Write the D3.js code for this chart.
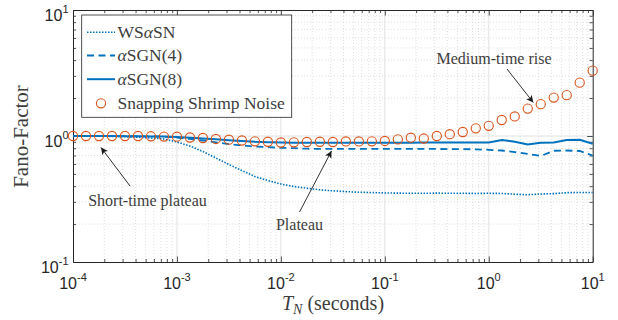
<!DOCTYPE html>
<html><head><meta charset="utf-8">
<script src="https://cdn.jsdelivr.net/npm/d3@7"></script>
<style>body{margin:0;background:#fff;} svg{display:block;}</style>
</head><body><svg id="c" width="618" height="320"></svg>
<script>
// ---- data ----
const timeSeconds = [
  1.0000e-4, 1.3335e-4, 1.7783e-4, 2.3714e-4, 3.1623e-4, 4.2170e-4, 5.6234e-4, 7.4989e-4,
  1.0000e-3, 1.3335e-3, 1.7783e-3, 2.3714e-3, 3.1623e-3, 4.2170e-3, 5.6234e-3, 7.4989e-3,
  1.0000e-2, 1.3335e-2, 1.7783e-2, 2.3714e-2, 3.1623e-2, 4.2170e-2, 5.6234e-2, 7.4989e-2,
  1.0000e-1, 1.3335e-1, 1.7783e-1, 2.3714e-1, 3.1623e-1, 4.2170e-1, 5.6234e-1, 7.4989e-1,
  1.0000, 1.3335, 1.7783, 2.3714, 3.1623, 4.2170, 5.6234, 7.4989, 10.0
];
const snappingShrimp = [
  1.000, 1.000, 1.000, 1.000, 1.000, 1.000, 0.995, 0.990,
  0.987, 0.973, 0.964, 0.947, 0.935, 0.921, 0.908, 0.900,
  0.888, 0.891, 0.896, 0.900, 0.896, 0.905, 0.905, 0.908,
  0.913, 0.940, 0.969, 0.955, 1.000, 1.033, 1.076, 1.150,
  1.205, 1.340, 1.430, 1.650, 1.790, 2.020, 2.110, 2.650, 3.300
];
const wsAlphaSN = [
  1.000, 1.000, 0.996, 0.993, 0.987, 0.978, 0.964, 0.947,
  0.896, 0.833, 0.753, 0.669, 0.594, 0.532, 0.477, 0.443,
  0.416, 0.397, 0.385, 0.374, 0.367, 0.362, 0.358, 0.356,
  0.353, 0.352, 0.351, 0.351, 0.352, 0.351, 0.351, 0.350,
  0.351, 0.350, 0.345, 0.342, 0.346, 0.349, 0.355, 0.356, 0.356
];
const alphaSGN4 = [
  1.000, 1.000, 1.000, 0.998, 0.996, 0.995, 0.993, 0.990,
  0.973, 0.947, 0.921, 0.891, 0.861, 0.841, 0.825, 0.815,
  0.806, 0.800, 0.793, 0.790, 0.790, 0.789, 0.789, 0.789,
  0.789, 0.789, 0.789, 0.789, 0.789, 0.787, 0.786, 0.784,
  0.777, 0.767, 0.746, 0.721, 0.694, 0.764, 0.767, 0.760, 0.700
];
const alphaSGN8 = [
  1.000, 1.000, 1.000, 0.998, 0.996, 0.995, 0.993, 0.991,
  0.982, 0.968, 0.955, 0.942, 0.926, 0.913, 0.901, 0.894,
  0.890, 0.885, 0.885, 0.885, 0.885, 0.885, 0.885, 0.885,
  0.885, 0.885, 0.885, 0.886, 0.886, 0.887, 0.888, 0.890,
  0.890, 0.930, 0.900, 0.856, 0.885, 0.888, 0.930, 0.933, 0.867
];
const xTickExponents = [-4, -3, -2, -1, 0, 1];
const yTickExponents = [-1, 0, 1];
const legendLabels = [["WS", "α", "SN"], ["", "α", "SGN(4)"], ["", "α", "SGN(8)"], ["Snapping Shrimp Noise", "", ""]];

// ---- layout ----
const svg = d3.select("#c");
const L = 73, R = 592.7, T = 10, B = 262;
const x = d3.scaleLog().domain([1e-4, 1e1]).range([L, R]);
const y = d3.scaleLog().domain([1e-1, 1e1]).range([B, T]);
const blue = "#0072BD", orange = "#D95319", axisCol = "#262626", textCol = "#3d3d3d";
const sans = "'Liberation Sans', Arial, sans-serif";
const serif = "'Liberation Serif', 'Times New Roman', serif";

const xMajor = xTickExponents.map(e => Math.pow(10, e));
const yMajor = yTickExponents.map(e => Math.pow(10, e));
const xMinor = [], yMinor = [];
for (let e = -4; e < 1; e++) for (let k = 2; k <= 9; k++) xMinor.push(k * Math.pow(10, e));
for (let e = -1; e < 1; e++) for (let k = 2; k <= 9; k++) yMinor.push(k * Math.pow(10, e));

// ---- grid ----
const grid = svg.append("g");
grid.selectAll(".gxm").data(xMinor).join("line")
  .attr("x1", d => x(d)).attr("x2", d => x(d)).attr("y1", T).attr("y2", B)
  .attr("stroke", "#c9c9c9").attr("stroke-width", 0.6).attr("stroke-dasharray", "1,2");
grid.selectAll(".gym").data(yMinor).join("line")
  .attr("y1", d => y(d)).attr("y2", d => y(d)).attr("x1", L).attr("x2", R)
  .attr("stroke", "#c9c9c9").attr("stroke-width", 0.6).attr("stroke-dasharray", "1,2");
grid.selectAll(".gx").data(xMajor.slice(1, -1)).join("line")
  .attr("x1", d => x(d)).attr("x2", d => x(d)).attr("y1", T).attr("y2", B)
  .attr("stroke", "#e2e2e2").attr("stroke-width", 1);
grid.selectAll(".gy").data(yMajor.slice(1, -1)).join("line")
  .attr("y1", d => y(d)).attr("y2", d => y(d)).attr("x1", L).attr("x2", R)
  .attr("stroke", "#e2e2e2").attr("stroke-width", 1);

// ---- axes (ticks inward on all four sides) ----
function styleAxis(g, minorSet, horiz, sign) {
  g.select(".domain").attr("stroke", axisCol).attr("stroke-width", 1);
  g.selectAll(".tick text").remove();
  g.selectAll(".tick line").attr("stroke", axisCol).attr("stroke-width", 0.8)
    .each(function(d) {
      const len = minorSet.includes(d) ? 3 : 5.5;
      d3.select(this).attr(horiz ? "y2" : "x2", sign * len);
    });
}
const xAll = xMajor.concat(xMinor), yAll = yMajor.concat(yMinor);
svg.append("g").attr("transform", `translate(0,${B})`)
  .call(d3.axisBottom(x).tickValues(xAll).tickSizeOuter(0).tickFormat(""))
  .call(g => styleAxis(g, xMinor, true, -1));
svg.append("g").attr("transform", `translate(0,${T})`)
  .call(d3.axisTop(x).tickValues(xAll).tickSizeOuter(0).tickFormat(""))
  .call(g => styleAxis(g, xMinor, true, 1));
svg.append("g").attr("transform", `translate(${L},0)`)
  .call(d3.axisLeft(y).tickValues(yAll).tickSizeOuter(0).tickFormat(""))
  .call(g => styleAxis(g, yMinor, false, 1));
svg.append("g").attr("transform", `translate(${R},0)`)
  .call(d3.axisRight(y).tickValues(yAll).tickSizeOuter(0).tickFormat(""))
  .call(g => styleAxis(g, yMinor, false, -1));

// tick labels 10^e
xTickExponents.forEach(e => {
  const t = svg.append("text").attr("x", x(Math.pow(10, e))).attr("y", 288.5)
    .attr("text-anchor", "middle").attr("font-family", sans).attr("font-size", 16).attr("fill", axisCol);
  t.append("tspan").text("10");
  t.append("tspan").attr("font-size", 11).attr("dy", -7.5).text(String(e));
});
yTickExponents.forEach(e => {
  const t = svg.append("text").attr("x", 68.5).attr("y", y(Math.pow(10, e)) + 10.5)
    .attr("text-anchor", "end").attr("font-family", sans).attr("font-size", 16).attr("fill", axisCol);
  t.append("tspan").text("10");
  t.append("tspan").attr("font-size", 11).attr("dy", -7.5).text(String(e));
});

// axis titles
const xl = svg.append("text").attr("x", 333).attr("y", 310).attr("text-anchor", "middle")
  .attr("font-family", serif).attr("font-size", 20).attr("fill", textCol);
xl.append("tspan").attr("font-style", "italic").text("T");
xl.append("tspan").attr("font-style", "italic").attr("font-size", 14).attr("dy", 4).text("N");
xl.append("tspan").attr("dy", -4).text(" (seconds)");
svg.append("text").attr("transform", "translate(28,136.5) rotate(-90)").attr("text-anchor", "middle")
  .attr("font-family", serif).attr("font-size", 21).attr("fill", textCol).text("Fano-Factor");

// ---- series ----
const pts = arr => arr.map((v, i) => [timeSeconds[i], v]);
const line = d3.line().x(d => x(d[0])).y(d => y(d[1]));
svg.append("path").datum(pts(wsAlphaSN)).attr("d", line).attr("fill", "none")
  .attr("stroke", blue).attr("stroke-width", 1.6).attr("stroke-dasharray", "1.5,1.5");
svg.append("path").datum(pts(alphaSGN4)).attr("d", line).attr("fill", "none")
  .attr("stroke", blue).attr("stroke-width", 1.8).attr("stroke-dasharray", "7,4.5");
svg.append("path").datum(pts(alphaSGN8)).attr("d", line).attr("fill", "none")
  .attr("stroke", blue).attr("stroke-width", 2);
svg.append("g").selectAll("circle").data(pts(snappingShrimp)).join("circle")
  .attr("cx", d => x(d[0])).attr("cy", d => y(d[1])).attr("r", 4.6)
  .attr("fill", "none").attr("stroke", orange).attr("stroke-width", 1.1);

// ---- legend ----
const lg = svg.append("g");
lg.append("rect").attr("x", 81.7).attr("y", 15).attr("width", 210).attr("height", 102.3)
  .attr("fill", "#fff").attr("stroke", axisCol).attr("stroke-width", 0.8);
const rowsY = [32.3, 55.5, 79.2, 103.3];
const sampleStyle = [
  {dash: "1.5,1.5", w: 1.6}, {dash: "7,4.5", w: 1.8}, {dash: null, w: 2}
];
legendLabels.forEach((lab, i) => {
  const ry = rowsY[i];
  if (i < 3) {
    lg.append("line").attr("x1", 87).attr("x2", 115).attr("y1", ry).attr("y2", ry)
      .attr("stroke", blue).attr("stroke-width", sampleStyle[i].w)
      .attr("stroke-dasharray", sampleStyle[i].dash);
  } else {
    lg.append("circle").attr("cx", 101).attr("cy", ry).attr("r", 4.6)
      .attr("fill", "none").attr("stroke", orange).attr("stroke-width", 1.1);
  }
  const t = lg.append("text").attr("x", 117.5).attr("y", ry + 5.5)
    .attr("font-family", serif).attr("font-size", 17.5).attr("fill", textCol);
  t.append("tspan").text(lab[0]);
  if (lab[1]) t.append("tspan").attr("font-style", "italic").text(lab[1]);
  if (lab[2]) t.append("tspan").text(lab[2]);
});

// ---- annotations ----
svg.append("defs").append("marker").attr("id", "ah").attr("viewBox", "0 0 10 10")
  .attr("refX", 10).attr("refY", 5).attr("markerWidth", 9).attr("markerHeight", 7)
  .attr("markerUnits", "userSpaceOnUse").attr("orient", "auto")
  .append("path").attr("d", "M0,0 L10,5 L0,10 L2.5,5 Z").attr("fill", "#1a1a1a");
const annots = [
  {text: "Medium-time rise", tx: 494, ty: 63.5, x1: 507, y1: 69, x2: 533.3, y2: 102.5},
  {text: "Short-time plateau", tx: 147.5, ty: 205.5, x1: 130, y1: 186, x2: 101, y2: 147.5},
  {text: "Plateau", tx: 299.5, ty: 230, x1: 299.5, y1: 212, x2: 331.5, y2: 151}
];
annots.forEach(a => {
  svg.append("line").attr("x1", a.x1).attr("y1", a.y1).attr("x2", a.x2).attr("y2", a.y2)
    .attr("stroke", "#1a1a1a").attr("stroke-width", 0.9).attr("marker-end", "url(#ah)");
  svg.append("text").attr("x", a.tx).attr("y", a.ty).attr("text-anchor", "middle")
    .attr("font-family", serif).attr("font-size", 16).attr("fill", textCol).text(a.text);
});
</script></body></html>
